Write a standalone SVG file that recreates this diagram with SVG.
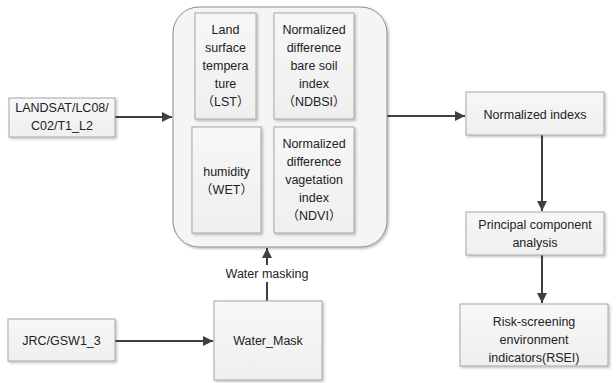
<svg xmlns="http://www.w3.org/2000/svg" width="616" height="383" viewBox="0 0 616 383">
<defs>
<linearGradient id="g" x1="0" y1="0" x2="0" y2="1">
<stop offset="0" stop-color="#f7f7f7"/>
<stop offset="1" stop-color="#efefef"/>
</linearGradient>
<filter id="sh" x="-10%" y="-10%" width="130%" height="130%">
<feDropShadow dx="1.5" dy="1.5" stdDeviation="1" flood-color="#000" flood-opacity="0.25"/>
</filter>
<marker id="ah" viewBox="0 0 10 10" refX="10" refY="5" markerWidth="10" markerHeight="10" markerUnits="userSpaceOnUse" orient="auto">
<path d="M0,0 L10,5 L0,10 z" fill="#404040"/>
</marker>
</defs>
<style>
.box{fill:url(#g);stroke:#a6a6a6;stroke-width:1;filter:url(#sh)}
.big{fill:#f5f5f5;stroke:#8c8c8c;stroke-width:1;filter:url(#sh)}
text{font-family:"Liberation Sans","Noto Sans CJK SC",sans-serif;font-size:12.5px;fill:#222;text-anchor:middle;dominant-baseline:central}
.c{stroke:#404040;stroke-width:2;fill:none;marker-end:url(#ah)}
</style>
<rect width="616" height="383" fill="#fff"/>
<g id="connectors">
<line class="c" x1="115" y1="117" x2="172" y2="117"/>
<line class="c" x1="387" y1="116" x2="465" y2="116"/>
<line class="c" x1="542" y1="135" x2="542" y2="211"/>
<line class="c" x1="542" y1="255" x2="542" y2="303"/>
<line class="c" x1="115" y1="341" x2="213" y2="341"/>
<line class="c" x1="267" y1="301" x2="267" y2="248"/>
<rect x="220" y="265" width="94" height="17" fill="#fff"/>
<text x="267" y="274">Water masking</text>
</g>
<g id="indices">
<rect class="big" x="173" y="7" width="214" height="240" rx="26"/>
</g>
<g id="lst">
<rect class="box" x="195" y="13" width="61" height="106"/>
<text x="225.5" y="30">Land</text>
<text x="225.5" y="48">surface</text>
<text x="225.5" y="66">tempera</text>
<text x="225.5" y="84">ture</text>
<text x="225.5" y="102">（LST）</text>
</g>
<g id="ndbsi">
<rect class="box" x="274" y="13" width="80" height="106"/>
<text x="314" y="30">Normalized</text>
<text x="314" y="48">difference</text>
<text x="314" y="66">bare soil</text>
<text x="314" y="84">index</text>
<text x="314" y="102">（NDBSI）</text>
</g>
<g id="wet">
<rect class="box" x="192" y="127" width="69" height="106"/>
<text x="226.5" y="172">humidity</text>
<text x="226.5" y="190">（WET）</text>
</g>
<g id="ndvi">
<rect class="box" x="274" y="127" width="80" height="106"/>
<text x="314" y="144">Normalized</text>
<text x="314" y="162">difference</text>
<text x="314" y="180">vagetation</text>
<text x="314" y="198">index</text>
<text x="314" y="216">（NDVI）</text>
</g>
<g id="landsat">
<rect class="box" x="9" y="98" width="106" height="39"/>
<text x="62" y="108">LANDSAT/LC08/</text>
<text x="62" y="126">C02/T1_L2</text>
</g>
<g id="jrc">
<rect class="box" x="8" y="319" width="107" height="42"/>
<text x="61.5" y="341">JRC/GSW1_3</text>
</g>
<g id="watermask">
<rect class="box" x="214" y="301" width="108" height="79"/>
<text x="268" y="341">Water_Mask</text>
</g>
<g id="normalized">
<rect class="box" x="466" y="92" width="138" height="43"/>
<text x="535" y="115">Normalized indexs</text>
</g>
<g id="pca">
<rect class="box" x="466" y="212" width="138" height="43"/>
<text x="535" y="225">Principal component</text>
<text x="535" y="243">analysis</text>
</g>
<g id="rsei">
<rect class="box" x="460" y="304" width="148" height="62"/>
<text x="534" y="322">Risk-screening</text>
<text x="534" y="340">environment</text>
<text x="534" y="358">indicators(RSEI)</text>
</g>
</svg>
